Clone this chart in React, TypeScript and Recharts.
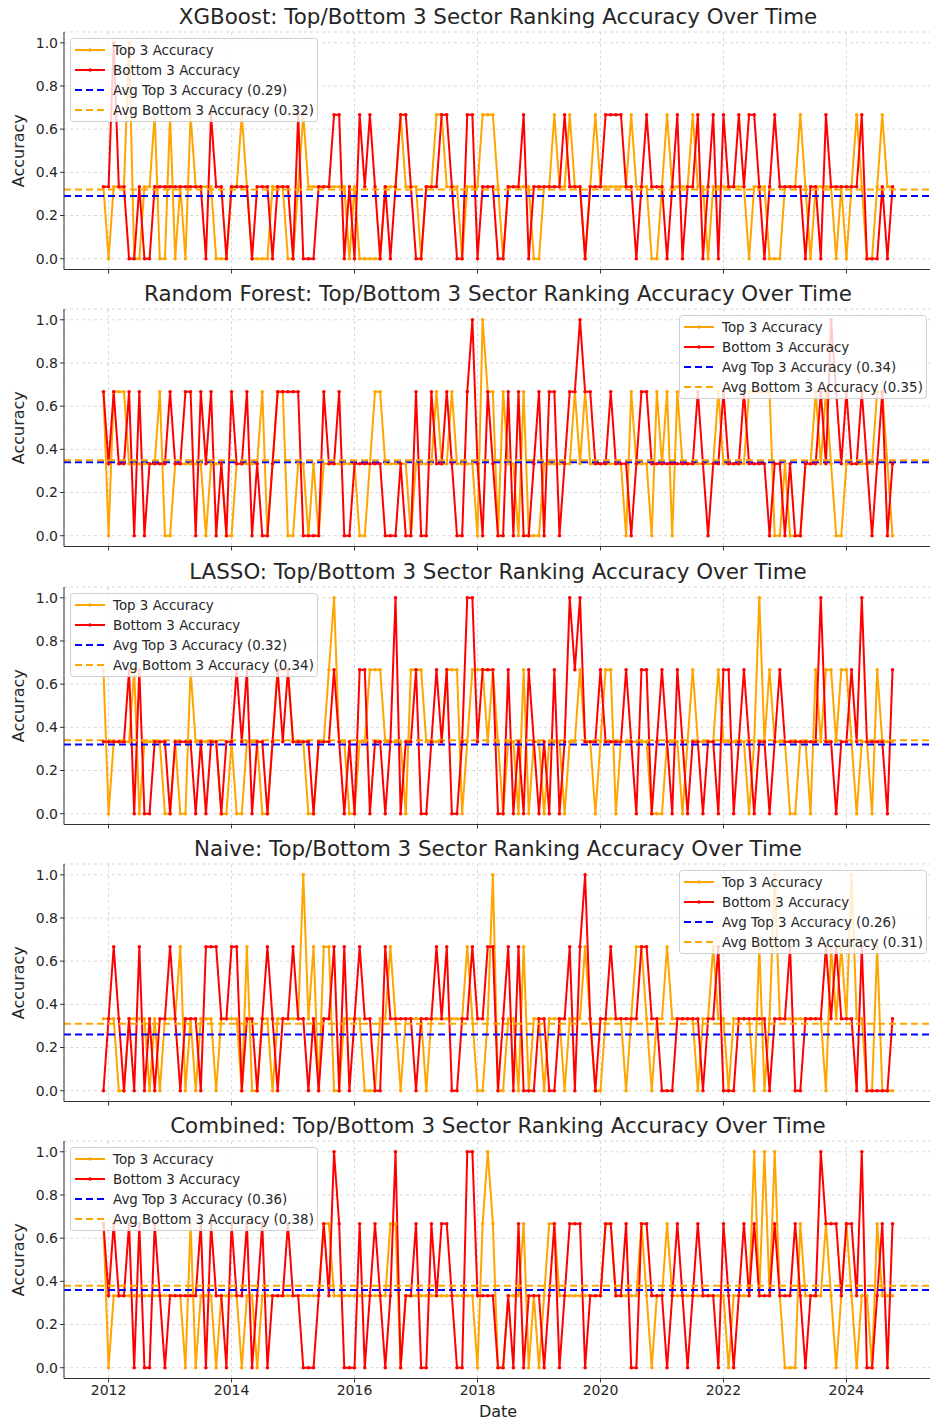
import React from 'react';
import { LineChart, Line, XAxis, YAxis, CartesianGrid, ReferenceLine, Legend } from 'recharts';

// Monthly evaluation window: Dec 2011 through Oct 2024.
const startYear = 2011;
const startMonth = 11; // December, 0-based

const yearTickLabels = ['2012', '2014', '2016', '2018', '2020', '2022', '2024'];
const accuracyTicks = [0, 0.2, 0.4, 0.6, 0.8, 1.0];

const modelNames = ['XGBoost', 'Random Forest', 'LASSO', 'Naive', 'Combined'];
const avgTopAccuracy = [0.29, 0.34, 0.32, 0.26, 0.36];
const avgBottomAccuracy = [0.32, 0.35, 0.34, 0.31, 0.38];
const legendOnRight = [false, true, false, true, false];

// Sectors correctly placed in the top / bottom 3 each month (0-3 hits).
const xgbTopHits = [
  1, 0, 1, 1, 1, 3, 0, 0, 1, 1,
  2, 0, 0, 2, 0, 1, 0, 2, 1, 1,
  1, 1, 0, 0, 0, 1, 1, 2, 1, 0,
  0, 0, 0, 1, 1, 1, 0, 0, 1, 2,
  1, 1, 1, 1, 1, 1, 1, 1, 0, 1,
  0, 0, 0, 0, 0, 1, 1, 1, 2, 1,
  1, 1, 0, 1, 1, 2, 2, 1, 1, 1,
  0, 1, 1, 1, 2, 2, 2, 1, 0, 1,
  1, 1, 1, 1, 0, 0, 1, 1, 2, 1,
  1, 2, 1, 1, 0, 1, 2, 1, 1, 1,
  1, 1, 1, 2, 1, 1, 1, 0, 0, 1,
  2, 1, 1, 1, 1, 2, 1, 1, 0, 1,
  1, 1, 1, 1, 1, 1, 0, 1, 1, 1,
  0, 0, 0, 1, 1, 1, 2, 1, 0, 1,
  1, 1, 1, 0, 1, 0, 1, 2, 1, 0,
  0, 1, 2, 1, 1,
];
const xgbBottomHits = [
  1, 1, 3, 1, 1, 0, 0, 1, 0, 0,
  1, 1, 1, 1, 1, 1, 1, 1, 1, 1,
  0, 2, 1, 1, 0, 1, 1, 1, 1, 0,
  1, 1, 1, 0, 1, 1, 1, 0, 2, 0,
  0, 0, 1, 1, 1, 2, 2, 0, 1, 0,
  2, 1, 2, 1, 0, 1, 0, 1, 2, 2,
  1, 0, 0, 1, 1, 1, 2, 2, 1, 0,
  0, 2, 2, 0, 1, 1, 1, 0, 0, 1,
  1, 1, 2, 0, 1, 1, 1, 1, 1, 1,
  2, 1, 1, 1, 0, 1, 1, 1, 2, 2,
  2, 2, 1, 1, 0, 1, 2, 1, 1, 1,
  0, 1, 2, 0, 1, 1, 2, 0, 1, 2,
  0, 2, 1, 1, 2, 1, 2, 2, 1, 0,
  1, 2, 1, 1, 1, 1, 1, 0, 1, 1,
  0, 2, 1, 1, 1, 1, 1, 1, 2, 0,
  0, 0, 1, 0, 1,
];
const rfTopHits = [
  2, 0, 2, 2, 2, 1, 1, 1, 1, 1,
  1, 2, 0, 0, 1, 1, 1, 1, 1, 1,
  0, 1, 1, 1, 0, 0, 1, 1, 1, 1,
  1, 2, 0, 1, 2, 2, 0, 0, 1, 1,
  0, 1, 0, 1, 1, 1, 1, 1, 1, 1,
  0, 0, 1, 2, 2, 1, 1, 1, 1, 1,
  0, 1, 1, 1, 1, 2, 1, 1, 2, 1,
  1, 1, 1, 0, 3, 2, 2, 0, 2, 1,
  1, 0, 2, 0, 0, 0, 1, 1, 1, 1,
  1, 1, 2, 1, 2, 1, 1, 1, 1, 1,
  1, 1, 0, 2, 1, 1, 1, 0, 2, 1,
  2, 0, 2, 1, 1, 1, 1, 1, 1, 1,
  2, 1, 1, 1, 1, 1, 2, 2, 2, 2,
  2, 0, 0, 1, 0, 0, 0, 1, 1, 2,
  1, 2, 1, 0, 0, 1, 1, 1, 1, 1,
  1, 2, 2, 1, 0,
];
const rfBottomHits = [
  2, 1, 2, 1, 1, 2, 0, 2, 0, 1,
  1, 1, 1, 2, 1, 1, 2, 2, 0, 2,
  1, 2, 0, 1, 0, 2, 1, 1, 2, 0,
  1, 0, 0, 1, 2, 2, 2, 2, 2, 0,
  0, 0, 0, 2, 1, 1, 2, 0, 0, 1,
  1, 1, 1, 1, 1, 0, 0, 0, 1, 0,
  0, 2, 0, 0, 2, 1, 1, 2, 1, 0,
  0, 2, 3, 1, 0, 2, 1, 0, 0, 2,
  0, 2, 0, 0, 1, 2, 0, 2, 2, 0,
  1, 2, 2, 3, 2, 2, 1, 1, 1, 2,
  1, 1, 1, 0, 1, 2, 2, 1, 1, 1,
  1, 1, 1, 1, 1, 1, 2, 1, 0, 1,
  1, 2, 1, 1, 1, 2, 1, 1, 1, 1,
  0, 1, 1, 0, 1, 0, 0, 1, 1, 1,
  2, 1, 3, 2, 1, 2, 1, 1, 2, 1,
  0, 1, 2, 0, 1,
];
const lassoTopHits = [
  2, 0, 1, 1, 1, 1, 2, 0, 1, 1,
  1, 1, 0, 0, 1, 0, 0, 2, 1, 1,
  1, 1, 1, 0, 0, 1, 0, 0, 1, 1,
  1, 0, 0, 1, 2, 2, 2, 1, 1, 1,
  0, 0, 1, 1, 2, 3, 1, 1, 0, 0,
  1, 1, 2, 2, 2, 1, 1, 1, 1, 0,
  2, 2, 2, 1, 1, 1, 1, 2, 2, 2,
  0, 1, 2, 2, 2, 1, 2, 1, 0, 1,
  1, 0, 2, 0, 1, 1, 0, 1, 1, 1,
  0, 1, 1, 2, 1, 1, 0, 1, 2, 2,
  0, 1, 1, 1, 1, 1, 1, 0, 0, 0,
  1, 1, 1, 0, 1, 2, 1, 1, 1, 1,
  2, 1, 1, 1, 1, 1, 0, 1, 3, 1,
  2, 1, 1, 1, 0, 0, 1, 1, 0, 2,
  1, 2, 2, 1, 2, 2, 1, 0, 1, 1,
  0, 2, 1, 1, 1,
];
const lassoBottomHits = [
  1, 1, 1, 1, 1, 2, 0, 2, 0, 0,
  1, 1, 1, 0, 1, 1, 1, 1, 0, 1,
  0, 1, 1, 0, 1, 1, 2, 1, 2, 0,
  1, 1, 0, 1, 2, 1, 2, 1, 1, 1,
  1, 0, 1, 1, 1, 2, 1, 0, 1, 0,
  2, 2, 0, 1, 1, 0, 1, 3, 0, 1,
  1, 2, 0, 0, 1, 2, 1, 2, 0, 0,
  1, 3, 3, 1, 2, 2, 2, 0, 0, 2,
  0, 1, 0, 2, 1, 0, 1, 0, 2, 0,
  1, 3, 2, 3, 1, 1, 1, 2, 1, 1,
  1, 1, 2, 1, 0, 2, 2, 0, 1, 2,
  1, 0, 2, 1, 0, 1, 1, 0, 1, 1,
  0, 2, 2, 0, 1, 2, 1, 0, 1, 1,
  0, 1, 2, 1, 1, 1, 1, 1, 1, 1,
  3, 1, 1, 0, 1, 1, 2, 1, 3, 1,
  1, 1, 1, 0, 2,
];
const naiveTopHits = [
  1, 1, 1, 0, 0, 1, 1, 1, 1, 0,
  1, 0, 1, 1, 1, 2, 0, 1, 0, 1,
  1, 1, 0, 1, 1, 1, 1, 0, 2, 0,
  0, 1, 1, 0, 1, 1, 1, 1, 1, 3,
  1, 2, 0, 2, 2, 0, 0, 1, 1, 1,
  1, 0, 0, 0, 1, 1, 2, 1, 0, 1,
  1, 1, 1, 0, 1, 1, 1, 1, 1, 1,
  1, 2, 1, 0, 0, 1, 3, 0, 0, 1,
  1, 0, 2, 0, 1, 1, 0, 1, 1, 1,
  0, 1, 1, 1, 2, 1, 0, 0, 1, 1,
  1, 1, 0, 1, 2, 2, 1, 0, 1, 1,
  2, 1, 1, 1, 1, 1, 0, 1, 1, 2,
  1, 1, 0, 1, 1, 1, 1, 0, 2, 0,
  1, 3, 1, 1, 1, 1, 1, 1, 1, 1,
  1, 0, 2, 1, 2, 1, 3, 1, 1, 0,
  0, 2, 0, 0, 0,
];
const naiveBottomHits = [
  0, 1, 2, 1, 0, 1, 0, 2, 0, 1,
  0, 1, 1, 2, 1, 0, 1, 1, 1, 0,
  2, 2, 2, 1, 1, 2, 2, 0, 1, 1,
  0, 1, 2, 1, 0, 1, 1, 2, 1, 1,
  0, 1, 0, 1, 1, 2, 0, 2, 0, 1,
  2, 1, 1, 0, 0, 2, 1, 1, 1, 1,
  1, 0, 1, 1, 1, 2, 1, 2, 0, 0,
  1, 1, 2, 1, 1, 2, 2, 0, 1, 2,
  0, 2, 0, 0, 0, 1, 1, 0, 0, 1,
  1, 2, 0, 2, 3, 1, 0, 1, 1, 2,
  1, 1, 1, 1, 1, 2, 2, 1, 1, 0,
  0, 0, 1, 1, 1, 1, 1, 0, 1, 1,
  2, 0, 0, 0, 1, 1, 1, 1, 1, 1,
  0, 1, 1, 1, 2, 0, 0, 1, 1, 1,
  1, 2, 1, 2, 1, 1, 1, 0, 2, 0,
  0, 0, 0, 0, 1,
];
const combinedTopHits = [
  2, 0, 1, 1, 1, 1, 1, 1, 1, 1,
  1, 1, 1, 1, 1, 1, 0, 2, 0, 1,
  1, 1, 0, 1, 1, 1, 1, 0, 1, 1,
  0, 1, 1, 1, 1, 1, 1, 1, 1, 1,
  1, 1, 1, 2, 2, 1, 1, 1, 1, 1,
  1, 1, 1, 1, 1, 1, 2, 2, 0, 1,
  1, 1, 1, 1, 1, 1, 1, 1, 1, 1,
  1, 1, 1, 0, 2, 3, 2, 0, 0, 1,
  1, 1, 2, 0, 1, 0, 1, 2, 2, 1,
  1, 1, 1, 1, 1, 1, 1, 1, 2, 2,
  1, 1, 1, 1, 1, 2, 1, 0, 1, 1,
  2, 1, 1, 1, 1, 1, 1, 1, 1, 1,
  1, 1, 0, 1, 1, 1, 1, 3, 1, 3,
  1, 3, 1, 0, 0, 0, 2, 1, 1, 1,
  1, 2, 1, 0, 1, 2, 1, 0, 1, 1,
  0, 2, 1, 1, 1,
];
const combinedBottomHits = [
  2, 1, 2, 1, 1, 2, 0, 2, 0, 0,
  2, 1, 0, 1, 1, 1, 1, 1, 1, 2,
  0, 2, 1, 1, 0, 2, 1, 1, 2, 0,
  1, 2, 0, 1, 1, 1, 2, 1, 1, 0,
  0, 0, 1, 2, 1, 3, 2, 0, 0, 0,
  2, 0, 1, 2, 1, 0, 1, 3, 0, 1,
  1, 2, 0, 0, 2, 1, 2, 2, 1, 0,
  0, 3, 3, 1, 1, 1, 1, 0, 0, 1,
  0, 2, 0, 1, 1, 1, 0, 1, 2, 0,
  1, 2, 2, 2, 0, 1, 1, 1, 2, 2,
  1, 1, 2, 0, 0, 2, 2, 1, 1, 1,
  0, 1, 2, 1, 0, 1, 2, 1, 1, 1,
  0, 2, 1, 0, 1, 2, 1, 2, 1, 1,
  1, 2, 1, 1, 1, 2, 1, 0, 1, 1,
  3, 2, 2, 2, 1, 2, 2, 1, 3, 0,
  0, 1, 2, 0, 2,
];

const topHitsByModel = [xgbTopHits, rfTopHits, lassoTopHits, naiveTopHits, combinedTopHits];
const bottomHitsByModel = [xgbBottomHits, rfBottomHits, lassoBottomHits, naiveBottomHits, combinedBottomHits];

const FONT = '"DejaVu Sans", sans-serif';
const TEXT = '#262626';
const TOP_COLOR = 'orange';
const BOTTOM_COLOR = 'red';
const AVG_TOP_COLOR = 'blue';
const AVG_BOTTOM_COLOR = 'orange';

const CHART_W = 940;
const PANEL_STEP = 277.25;
const PLOT_TOP = 32;
const PLOT_H = 237.5;
const Y_AXIS_W = 64;

const monthOf = (year: number) => (year - startYear) * 12 - startMonth;
const yearTicks = yearTickLabels.map((y) => monthOf(Number(y)));
const tickLabelFor = (m: number) => {
  const idx = yearTicks.indexOf(m);
  return idx >= 0 ? yearTickLabels[idx] : '';
};

type LegendProps = { avgTop: number; avgBottom: number };

function LegendBox({ avgTop, avgBottom }: LegendProps) {
  const rows = [
    { label: 'Top 3 Accuracy', color: TOP_COLOR, dash: undefined, dot: true },
    { label: 'Bottom 3 Accuracy', color: BOTTOM_COLOR, dash: undefined, dot: true },
    { label: `Avg Top 3 Accuracy (${avgTop.toFixed(2)})`, color: AVG_TOP_COLOR, dash: '7 4', dot: false },
    { label: `Avg Bottom 3 Accuracy (${avgBottom.toFixed(2)})`, color: AVG_BOTTOM_COLOR, dash: '7 4', dot: false },
  ];
  return (
    <svg width={248} height={84} style={{ display: 'block' }}>
      <rect x={0.5} y={0.5} width={247} height={83} rx={3} fill="rgba(255,255,255,0.8)" stroke="#d0d0d0" />
      {rows.map((r, i) => {
        const cy = 12 + i * 20;
        return (
          <g key={r.label}>
            <line x1={5} x2={35} y1={cy} y2={cy} stroke={r.color} strokeWidth={2} strokeDasharray={r.dash} />
            {r.dot && <circle cx={20} cy={cy} r={1.8} fill={r.color} />}
            <text x={43} y={cy} dominantBaseline="central" fontSize={13.4} fontFamily={FONT} fill={TEXT}>
              {r.label}
            </text>
          </g>
        );
      })}
    </svg>
  );
}

type PanelProps = { index: number; showDates: boolean };

function Panel({ index, showDates }: PanelProps) {
  const top = topHitsByModel[index];
  const bottom = bottomHitsByModel[index];
  const data = top.map((t, m) => ({ m, top: t / 3, bottom: bottom[m] / 3 }));
  const lastMonth = data.length - 1;
  const pad = lastMonth * 0.05;
  const height = showDates ? 314 : 300;
  const xAxisH = height - PLOT_TOP - PLOT_H;
  const avgTop = avgTopAccuracy[index];
  const avgBottom = avgBottomAccuracy[index];

  return (
    <div style={{ position: 'absolute', left: 0, top: Math.round(PANEL_STEP * index), width: CHART_W, height }}>
      <LineChart width={CHART_W} height={height} data={data} margin={{ top: PLOT_TOP, right: 8, bottom: 0, left: 0 }}>
        <CartesianGrid stroke="#cfcfcf" strokeDasharray="3 3" strokeWidth={0.8} />
        <XAxis
          type="number"
          dataKey="m"
          domain={[-pad, lastMonth + pad]}
          allowDataOverflow
          ticks={yearTicks}
          tickFormatter={(v: number) => (showDates ? tickLabelFor(v) : '')}
          height={xAxisH}
          tickSize={4}
          tickMargin={3}
          axisLine={{ stroke: '#333', strokeWidth: 1 }}
          tickLine={{ stroke: '#333' }}
          tick={{ fontSize: 14, fontFamily: FONT, fill: TEXT }}
          label={
            showDates
              ? (p: any) => {
                  const vb = p.viewBox || {};
                  return (
                    <text x={vb.x + vb.width / 2} y={vb.y + 32.5} textAnchor="middle" dominantBaseline="central" fontSize={16} fontFamily={FONT} fill={TEXT}>
                      Date
                    </text>
                  );
                }
              : undefined
          }
        />
        <YAxis
          type="number"
          domain={[-0.05, 1.05]}
          allowDataOverflow
          ticks={accuracyTicks}
          tickFormatter={(v: number) => v.toFixed(1)}
          width={Y_AXIS_W}
          tickSize={4}
          tickMargin={2}
          axisLine={{ stroke: '#333', strokeWidth: 1 }}
          tickLine={{ stroke: '#333' }}
          tick={{ fontSize: 14, fontFamily: FONT, fill: TEXT }}
          label={(p: any) => {
            const vb = p.viewBox || {};
            const cy = (vb.y ?? PLOT_TOP) + (vb.height ?? PLOT_H) / 2;
            return (
              <text transform={`translate(18, ${cy}) rotate(-90)`} textAnchor="middle" dominantBaseline="central" fontSize={16} fontFamily={FONT} fill={TEXT}>
                Accuracy
              </text>
            );
          }}
        />
        <Line
          type="linear"
          dataKey="top"
          stroke={TOP_COLOR}
          strokeWidth={2}
          dot={{ r: 1.8, fill: TOP_COLOR, stroke: TOP_COLOR, strokeWidth: 0 }}
          isAnimationActive={false}
        />
        <Line
          type="linear"
          dataKey="bottom"
          stroke={BOTTOM_COLOR}
          strokeWidth={2}
          dot={{ r: 1.8, fill: BOTTOM_COLOR, stroke: BOTTOM_COLOR, strokeWidth: 0 }}
          isAnimationActive={false}
        />
        <ReferenceLine y={avgTop} stroke={AVG_TOP_COLOR} strokeWidth={2} strokeDasharray="7 4" />
        <ReferenceLine y={avgBottom} stroke={AVG_BOTTOM_COLOR} strokeWidth={2} strokeDasharray="7 4" />
        <Legend
          layout="horizontal"
          verticalAlign="middle"
          content={() => <LegendBox avgTop={avgTop} avgBottom={avgBottom} />}
          wrapperStyle={{ position: 'absolute', left: legendOnRight[index] ? 679 : 70, top: 38, width: 248, height: 84 }}
        />
      </LineChart>
      <div
        style={{
          position: 'absolute',
          left: Y_AXIS_W,
          top: 4,
          width: CHART_W - Y_AXIS_W - 8,
          height: 26,
          lineHeight: '26px',
          textAlign: 'center',
          fontSize: 21.4,
          fontFamily: FONT,
          color: TEXT,
          whiteSpace: 'nowrap',
        }}
      >
        {`${modelNames[index]}: Top/Bottom 3 Sector Ranking Accuracy Over Time`}
      </div>
    </div>
  );
}

export default function App() {
  return (
    <div style={{ position: 'absolute', left: 0, top: 0, width: 930, height: 1423, overflow: 'hidden', background: '#fff' }}>
      {modelNames.map((name, i) => (
        <Panel key={name} index={i} showDates={i === modelNames.length - 1} />
      ))}
    </div>
  );
}
